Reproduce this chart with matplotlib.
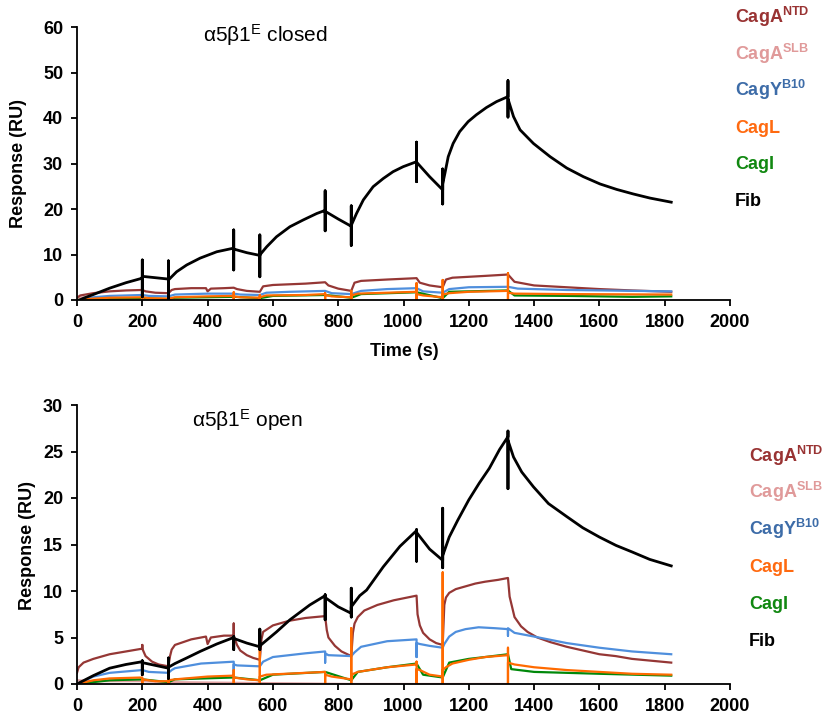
import matplotlib
matplotlib.use("Agg")
from matplotlib import pyplot as plt

plt.rcParams['font.family'] = ['Liberation Sans', 'DejaVu Sans']
plt.rcParams['mathtext.fontset'] = 'custom'
plt.rcParams['mathtext.rm'] = 'Liberation Sans'
plt.rcParams['mathtext.bf'] = 'Liberation Sans:bold'
plt.rcParams['mathtext.it'] = 'Liberation Sans:italic'

# Series names and colours
names = [r'$\mathbf{CagA}^{\mathbf{NTD}}$', r'$\mathbf{CagA}^{\mathbf{SLB}}$',
         r'$\mathbf{CagY}^{\mathbf{B10}}$', 'CagL', 'CagI', 'Fib']
text_colors = ['#993333', '#E09A9A', '#3D6CA8', '#FF6A10', '#118811', 'black']

# ---- alpha5beta1 closed (top) ----
top_fib_t = [0, 20, 50, 100, 150, 200, 200, 200, 200, 240, 280, 280, 280, 280,
             305, 336, 377, 428, 480, 480, 480, 480, 520, 560, 560, 560, 560,
             581, 611, 652, 693, 734, 760, 760, 760, 760, 800, 840, 840, 840, 840,
             856, 877, 907, 938, 968, 999, 1040, 1040, 1040, 1040, 1080, 1120, 1120, 1120, 1120,
             1127, 1137, 1152, 1172, 1198, 1223, 1254, 1285, 1320, 1320, 1320, 1320,
             1337, 1357, 1398, 1449, 1500, 1551, 1602, 1653, 1704, 1755, 1820]
top_fib_v = [-0.3, 0.4, 1.2, 2.6, 3.8, 4.8, 8.8, 0.7, 5.2, 4.9, 4.6, 8.6, 0.0, 4.4,
             6.2, 7.7, 9.2, 10.6, 11.4, 15.4, 6.6, 11.2, 10.4, 9.8, 14.3, 5.1, 9.9,
             11.7, 13.9, 16.1, 17.6, 19.0, 19.7, 24.0, 15.2, 19.5, 17.8, 16.2, 20.7, 12.0, 16.4,
             19.0, 22.0, 24.9, 26.7, 28.2, 29.3, 30.4, 34.7, 26.0, 30.3, 27.1, 24.2, 28.8, 21.1, 25.5,
             27.9, 31.5, 34.4, 37.0, 39.2, 40.7, 42.3, 43.6, 44.7, 48.2, 40.2, 44.2,
             40.3, 37.4, 34.4, 31.5, 29.0, 27.1, 25.5, 24.3, 23.3, 22.4, 21.5]

top_ntd_t = [0, 10, 50, 100, 150, 200, 210, 240, 280, 290, 300, 350, 395, 400, 410,
             450, 480, 490, 520, 560, 570, 600, 700, 760, 770, 800, 840,
             850, 870, 950, 1040, 1050, 1080, 1120, 1130, 1150, 1250, 1320,
             1340, 1400, 1500, 1600, 1700, 1820]
top_ntd_v = [0.5, 1.0, 1.5, 1.9, 2.1, 2.2, 1.9, 1.6, 1.5, 2.2, 2.4, 2.6, 2.6, 1.9, 2.5,
             2.6, 2.7, 2.4, 2.0, 1.8, 3.0, 3.3, 3.6, 3.9, 3.2, 2.5, 2.0,
             3.8, 4.2, 4.5, 4.8, 3.8, 3.2, 2.8, 4.5, 4.9, 5.3, 5.6,
             4.0, 3.2, 2.8, 2.4, 2.1, 1.8]

top_slb_t = [0, 30, 60, 100, 200, 280, 560, 1040, 1060, 1120, 1160, 1320, 1820]
top_slb_v = [0.6, 0.5, 0.1, 0.1, 0.1, 0.0, -0.1, -0.2, -0.5, -0.4, -0.2, -0.6, -0.8]

top_b10_t = [0, 50, 100, 200, 220, 280, 300, 400, 480, 500, 560, 580, 650, 760,
             780, 840, 870, 950, 1040, 1060, 1120, 1140, 1200, 1320, 1350, 1500, 1820]
top_b10_v = [0.0, 0.6, 0.9, 1.1, 0.9, 0.8, 1.2, 1.4, 1.4, 1.2, 1.1, 1.6, 1.8, 2.0,
             1.5, 1.3, 2.0, 2.4, 2.6, 1.9, 1.6, 2.4, 2.8, 2.9, 2.5, 2.2, 1.9]

top_cagl_t = [0, 50, 100, 200, 200, 200, 200, 220, 280, 280, 280, 300, 400, 480,
              480, 480, 480, 500, 560, 560, 560, 560, 580, 700, 760, 760, 760, 760,
              780, 840, 840, 840, 840, 860, 950, 1040, 1040, 1040, 1040, 1060, 1120,
              1120, 1120, 1120, 1140, 1200, 1320, 1320, 1320, 1320, 1340, 1500, 1820]
top_cagl_v = [0.0, 0.3, 0.5, 0.6, 0.0, 0.6, 0.6, 0.4, 0.3, 0.0, 0.3, 0.6, 0.8, 0.9,
              1.7, 0.0, 0.8, 0.6, 0.5, 1.1, 0.0, 0.6, 1.0, 1.1, 1.3, 1.5, 0.0, 1.1,
              0.8, 0.6, 2.0, 0.0, 1.0, 1.4, 1.6, 1.8, 3.7, 0.0, 1.3, 1.0, 0.6,
              4.4, 0.0, 1.2, 1.5, 1.8, 2.0, 5.9, 0.0, 1.6, 1.4, 1.3, 1.2]

top_cagi_t = [0, 100, 200, 280, 300, 480, 560, 600, 760, 840, 870, 1040, 1120,
              1140, 1320, 1340, 1500, 1700, 1820]
top_cagi_v = [0.0, 0.3, 0.4, 0.2, 0.5, 0.7, 0.4, 0.9, 1.1, 0.5, 1.3, 1.7, 0.4,
              1.8, 2.1, 1.0, 0.9, 0.7, 0.8]

# ---- alpha5beta1 open (bottom) ----
bot_fib_t = [0, 50, 100, 150, 200, 200, 200, 200, 240, 280, 280, 280, 280,
             300, 336, 377, 428, 480, 480, 480, 480, 520, 560, 560, 560, 560,
             611, 652, 713, 760, 760, 760, 760, 800, 840, 840, 840, 840,
             866, 887, 938, 989, 1040, 1040, 1040, 1040, 1080, 1120, 1120, 1120, 1120,
             1140, 1166, 1200, 1232, 1263, 1294, 1320, 1320, 1320, 1320,
             1337, 1362, 1398, 1444, 1500, 1549, 1600, 1651, 1700, 1754, 1820]
bot_fib_v = [0.0, 0.9, 1.7, 2.1, 2.4, 2.5, 1.0, 2.3, 2.0, 1.7, 2.8, 0.6, 1.8,
             2.2, 2.8, 3.5, 4.3, 5.0, 5.1, 3.7, 4.9, 4.4, 4.0, 5.9, 3.7, 4.1,
             5.6, 6.9, 8.5, 9.5, 9.6, 6.9, 9.3, 8.3, 7.6, 10.3, 7.2, 8.3,
             9.5, 10.1, 12.6, 14.8, 16.5, 16.6, 13.2, 16.3, 14.5, 13.3, 18.9, 12.5, 13.8,
             15.8, 17.6, 19.8, 21.6, 23.2, 25.2, 26.6, 27.2, 21.0, 26.2,
             24.4, 22.8, 21.2, 19.4, 18.0, 16.8, 15.8, 14.9, 14.2, 13.4, 12.7]

bot_ntd_t = [0, 5, 20, 50, 100, 150, 200, 200, 200, 210, 230, 250, 280,
             285, 290, 300, 350, 395, 400, 410, 450, 480, 480, 480,
             490, 500, 520, 540, 560, 565, 570, 600, 650, 700, 760,
             765, 770, 790, 810, 840, 845, 850, 860, 880, 920, 970, 1040,
             1043, 1050, 1060, 1080, 1100, 1120, 1125, 1130, 1140, 1160, 1190, 1220, 1250, 1290, 1320,
             1325, 1340, 1360, 1380, 1410, 1450, 1500, 1550, 1600, 1650, 1700, 1760, 1820]
bot_ntd_v = [1.2, 1.8, 2.3, 2.7, 3.2, 3.5, 3.8, 4.2, 3.8, 3.0, 2.4, 2.1, 1.9,
             3.0, 3.7, 4.2, 4.8, 5.1, 4.3, 5.0, 5.2, 5.2, 6.5, 5.2,
             4.2, 3.6, 3.1, 2.8, 2.6, 4.8, 5.6, 6.3, 6.8, 7.1, 7.3,
             5.8, 5.0, 4.1, 3.5, 3.0, 5.5, 6.5, 7.2, 7.9, 8.5, 9.0, 9.5,
             7.5, 6.3, 5.5, 4.8, 4.4, 4.2, 8.5, 9.3, 9.8, 10.2, 10.5, 10.8, 11.0, 11.2, 11.4,
             9.4, 7.2, 6.2, 5.6, 5.0, 4.5, 4.0, 3.6, 3.2, 3.0, 2.7, 2.5, 2.3]

bot_slb_t = [0, 50, 200, 280, 560, 840, 1040, 1120, 1320, 1330, 1820]
bot_slb_v = [0.4, 0.3, 0.3, 0.2, 0.1, 0.0, 0.0, 0.0, 0.0, -0.5, -0.5]

bot_b10_t = [0, 50, 100, 200, 200, 200, 220, 280, 290, 300, 380, 480, 480, 480,
             490, 560, 570, 600, 700, 760, 760, 760, 770, 840, 850, 870, 950, 1040,
             1040, 1040, 1050, 1080, 1120, 1125, 1140, 1160, 1190, 1230, 1280, 1320, 1320, 1320,
             1340, 1400, 1500, 1600, 1700, 1820]
bot_b10_v = [0.0, 0.8, 1.2, 1.5, 1.8, 1.5, 1.3, 1.2, 1.5, 1.7, 2.2, 2.4, 1.0, 2.1,
             2.0, 1.9, 2.4, 2.9, 3.3, 3.5, 2.3, 3.3, 3.1, 3.0, 3.4, 4.0, 4.6, 4.8,
             2.9, 4.4, 4.3, 4.1, 3.9, 4.3, 5.1, 5.6, 5.9, 6.1, 6.0, 5.9, 5.2, 6.0,
             5.5, 5.1, 4.4, 3.9, 3.5, 3.2]

bot_cagl_t = [0, 50, 100, 200, 200, 200, 200, 240, 280, 280, 280, 280, 300, 400, 480,
              480, 480, 480, 520, 560, 560, 560, 560, 580, 700, 760, 760, 760, 760,
              780, 840, 840, 840, 840, 860, 950, 1040, 1040, 1040, 1040, 1050, 1080, 1120,
              1120, 1120, 1120, 1130, 1150, 1200, 1250, 1320, 1320, 1320, 1320,
              1340, 1400, 1500, 1600, 1700, 1820]
bot_cagl_v = [0.0, 0.4, 0.6, 0.7, 0.7, 0.0, 0.5, 0.3, 0.3, 1.0, 0.0, 0.4, 0.5, 0.8, 0.9,
              1.5, 0.0, 0.7, 0.5, 0.4, 5.9, 0.0, 0.8, 1.0, 1.2, 1.3, 1.3, 0.0, 1.0,
              0.8, 0.5, 6.0, 0.0, 1.0, 1.3, 1.8, 2.1, 2.4, 0.0, 1.6, 1.5, 1.0, 0.8,
              12.0, 0.0, 1.5, 1.8, 2.2, 2.6, 2.9, 3.1, 3.9, 0.0, 2.3,
              2.1, 1.8, 1.5, 1.3, 1.1, 1.0]

bot_cagi_t = [0, 100, 200, 280, 300, 480, 560, 600, 760, 840, 860, 950, 1040,
              1060, 1120, 1140, 1200, 1250, 1320, 1330, 1400, 1600, 1820]
bot_cagi_v = [0.0, 0.4, 0.5, 0.2, 0.5, 0.7, 0.4, 1.0, 1.3, 0.4, 1.3, 1.8, 2.2,
              1.0, 0.7, 2.3, 2.7, 2.9, 3.2, 1.6, 1.3, 1.1, 0.9]

line_colors = {'ntd': '#953735', 'slb': '#E0A0A0', 'b10': '#4F8FDD',
               'cagl': '#FF6A00', 'cagi': '#00880A', 'fib': 'black'}

W, H = 825, 722
fig = plt.figure(figsize=(W / 100, H / 100), dpi=100)
ax1 = fig.add_axes([77 / W, 1 - 300 / H, 653 / W, 273 / H])
ax2 = fig.add_axes([77 / W, 1 - 684 / H, 653 / W, 279 / H])


def draw(ax, series):
    for key, t, v in series:
        lw = 2.0 if key == 'fib' else 1.6
        ax.plot(t, v, color=line_colors[key], lw=lw, solid_joinstyle='round')


draw(ax1, [('slb', top_slb_t, top_slb_v), ('ntd', top_ntd_t, top_ntd_v),
           ('b10', top_b10_t, top_b10_v), ('cagi', top_cagi_t, top_cagi_v),
           ('cagl', top_cagl_t, top_cagl_v), ('fib', top_fib_t, top_fib_v)])
draw(ax2, [('slb', bot_slb_t, bot_slb_v), ('ntd', bot_ntd_t, bot_ntd_v),
           ('b10', bot_b10_t, bot_b10_v), ('cagi', bot_cagi_t, bot_cagi_v),
           ('cagl', bot_cagl_t, bot_cagl_v), ('fib', bot_fib_t, bot_fib_v)])

for ax, ymax, ystep in [(ax1, 60, 10), (ax2, 30, 5)]:
    ax.set_xlim(0, 2000)
    ax.set_ylim(0, ymax)
    ax.set_xticks(range(0, 2001, 200))
    ax.set_yticks(range(0, ymax + 1, ystep))
    for s in ['top', 'right']:
        ax.spines[s].set_visible(False)
    for s in ['left', 'bottom']:
        ax.spines[s].set_linewidth(1.3)
    ax.tick_params(direction='out', length=4, width=1.3, labelsize=13, pad=6)
    for lab in ax.get_xticklabels() + ax.get_yticklabels():
        lab.set_fontweight('bold')

ax1.text((203 - 77) / 653, 1 - 15 / 273, r'α5β1$^{\mathrm{E}}$ closed',
         transform=ax1.transAxes, fontsize=15, va='baseline', ha='left')
ax2.text((192 - 77) / 653, 1 - 22 / 279, r'α5β1$^{\mathrm{E}}$ open',
         transform=ax2.transAxes, fontsize=15, va='baseline', ha='left')

fig.text(19 / W, 1 - 163 / H, 'Response (RU)', rotation=90, ha='center', va='center',
         fontsize=13, fontweight='bold')
fig.text(27 / W, 1 - 545 / H, 'Response (RU)', rotation=90, ha='center', va='center',
         fontsize=13, fontweight='bold')
fig.text(404 / W, 1 - 351 / H, 'Time (s)', ha='center', va='center',
         fontsize=13, fontweight='bold')

# legend entries drawn as coloured text
top_base = [23, 60, 96, 133, 169, 206]
bot_base = [462, 498, 535, 572, 609, 646]
for name, col, yt, yb in zip(names, text_colors, top_base, bot_base):
    fig.text(735 / W, 1 - yt / H, name, color=col, fontsize=13, fontweight='bold',
             va='baseline', ha='left')
    fig.text(749 / W, 1 - yb / H, name, color=col, fontsize=13, fontweight='bold',
             va='baseline', ha='left')

fig.savefig('out.png', dpi=100)
